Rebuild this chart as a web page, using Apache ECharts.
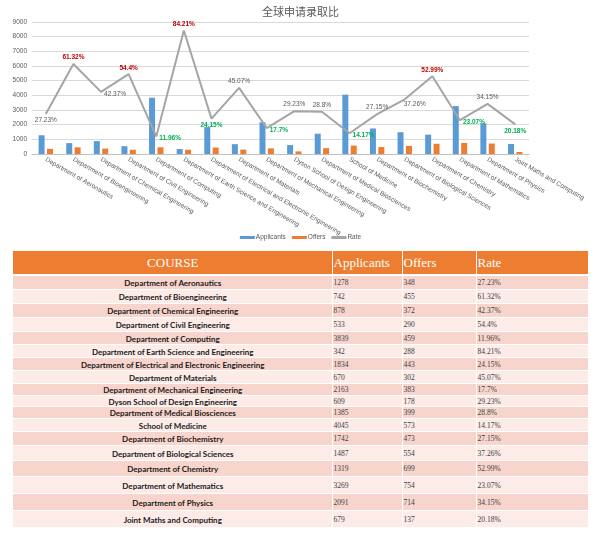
<!DOCTYPE html>
<html>
<head>
<meta charset="utf-8">
<script src="https://cdn.jsdelivr.net/npm/echarts@6/dist/echarts.min.js"></script>
<style>
    html, body { margin: 0; padding: 0; background: #fff; }
    #wrap { position: relative; width: 601px; height: 537px; overflow: hidden; }
    #chart { position: absolute; left: 0; top: 0; width: 601px; height: 250px; }
    #tbl {
        position: absolute; left: 13px; top: 251px; width: 575px;
        border-collapse: collapse; table-layout: fixed;
    }
    #tbl th {
        background: #ED7D31; color: #fff; font-family: "Liberation Serif", serif;
        font-weight: normal; font-size: 13px; height: 23px; padding: 0 0 0 1px;
        text-align: left; border-left: 1px solid #fff; border-bottom: 2px solid #fff;
    }
    #tbl th:first-child { text-align: center; border-left: none; }
    #tbl td {
        padding: 2px 0 0 1px; border-left: 1px solid #fff; border-top: 1px solid #fff;
        font-family: "Liberation Serif", serif; font-size: 7.5px; color: #404040;
        line-height: 8px; vertical-align: middle;
    }
    #tbl td.course {
        text-align: center; border-left: none; font-family: Lato, sans-serif;
        font-weight: bold; font-size: 8px; color: #1a1a1a;
    }
    #tbl tr.dark td { background: #F8D5CC; }
    #tbl tr.light td { background: #FCEBE7; }
</style>
</head>
<body>
<div id="wrap">
    <div id="chart"></div>
    <table id="tbl"></table>
</div>
<script>
    // 课程名称
    var courses = [
        'Department of Aeronautics', 'Department of Bioengineering', 'Department of Chemical Engineering',
        'Department of Civil Engineering', 'Department of Computing', 'Department of Earth Science and Engineering',
        'Department of Electrical and Electronic Engineering', 'Department of Materials',
        'Department of Mechanical Engineering', 'Dyson School of Design Engineering',
        'Department of Medical Biosciences', 'School of Medicine', 'Department of Biochemistry',
        'Department of Biological Sciences', 'Department of Chemistry', 'Department of Mathematics',
        'Department of Physics', 'Joint Maths and Computing'
    ]
    // 申请人数
    var applicants = [1278, 742, 878, 533, 3839, 342, 1834, 670, 2163, 609, 1385, 4045, 1742, 1487, 1319, 3269, 2091, 679]
    // 录取人数
    var offers = [348, 455, 372, 290, 459, 288, 443, 302, 383, 178, 399, 573, 473, 554, 699, 754, 714, 137]
    // 录取率 (%)
    var rates = [27.23, 61.32, 42.37, 54.4, 11.96, 84.21, 24.15, 45.07, 17.7, 29.23, 28.8, 14.17, 27.15, 37.26, 52.99, 23.07, 34.15, 20.18]
    var yTicks = [0, 1000, 2000, 3000, 4000, 5000, 6000, 7000, 8000, 9000]

    // 折线标签的位置 (样式)
    var labelPos = ['bottom', 'top', 'right', 'top', 'right', 'top', 'bottom', 'top', 'right',
        'top', 'top', 'right', 'top', 'bottom', 'top', 'right', 'top', 'bottom']
    // 表格行高 (样式)
    var rowH = [14, 14, 14, 14, 13, 13, 13, 13, 12, 11, 12, 13, 14, 15, 16, 17, 17, 17]

    function rateColor(r) {
        if (r > 50) return '#C00000'
        if (r < 25) return '#00B050'
        return '#595959'
    }

    var rateData = rates.map(function (r, i) {
        var hi = r > 50 || r < 25
        return {
            value: r * 100,
            label: {
                position: labelPos[i],
                offset: i === 13 ? [10, -2] : (labelPos[i] === 'right' ? [0, 2] : [0, 0]),
                color: rateColor(r),
                fontWeight: hi ? 'bold' : 'normal'
            }
        }
    })

    var chart = echarts.init(document.getElementById('chart'))
    chart.setOption({
        animation: false,
        textStyle: { fontFamily: 'Liberation Sans, sans-serif' },
        title: {
            text: '全球申请录取比',
            left: 'center',
            top: 1,
            textStyle: { fontFamily: 'Noto Sans CJK SC', fontSize: 11, fontWeight: 'normal', color: '#595959' }
        },
        legend: {
            bottom: 4,
            left: 'center',
            itemWidth: 15,
            itemHeight: 3,
            itemGap: 6,
            textStyle: { fontSize: 6.5, color: '#595959', padding: [0, 0, 0, -4] },
            data: [
                { name: 'Applicants', icon: 'rect' },
                { name: 'Offers', icon: 'rect' },
                { name: 'Rate', icon: 'rect' }
            ]
        },
        grid: { left: 32, right: 72, top: 22, bottom: 96 },
        xAxis: {
            type: 'category',
            data: courses,
            axisLine: { lineStyle: { color: '#BFBFBF' } },
            axisTick: { show: false },
            axisLabel: {
                rotate: -30,
                interval: 0,
                fontSize: 6.5,
                color: '#595959',
                margin: 5
            }
        },
        yAxis: {
            type: 'value',
            min: yTicks[0],
            max: yTicks[yTicks.length - 1],
            interval: 1000,
            axisLabel: {
                fontSize: 6.5, color: '#595959', margin: 5,
                formatter: function (v) { return String(v) }
            },
            axisLine: { show: false },
            axisTick: { show: false },
            splitLine: { lineStyle: { color: '#D9D9D9', width: 1 } }
        },
        series: [{
            name: 'Applicants',
            type: 'bar',
            data: applicants,
            barWidth: 6,
            barGap: '40%',
            itemStyle: { color: '#5B9BD5' }
        }, {
            name: 'Offers',
            type: 'bar',
            data: offers,
            barWidth: 6,
            itemStyle: { color: '#ED7D31' }
        }, {
            name: 'Rate',
            type: 'line',
            data: rateData,
            symbol: 'circle',
            symbolSize: 0,
            showSymbol: true,
            itemStyle: { color: '#A5A5A5' },
            lineStyle: { color: '#A5A5A5', width: 2 },
            label: {
                show: true,
                fontSize: 6.5,
                distance: 3,
                formatter: function (p) {
                    return rates[p.dataIndex] + '%'
                }
            },
            z: 5
        }]
    })

    // 表格
    var html = '<colgroup><col style="width:319px"><col style="width:70px"><col style="width:74px"><col style="width:112px"></colgroup>'
    html += '<tr><th>COURSE</th><th>Applicants</th><th>Offers</th><th>Rate</th></tr>'
    courses.forEach(function (c, i) {
        html += '<tr class="' + (i % 2 === 0 ? 'dark' : 'light') + '" style="height:' + rowH[i] + 'px">' +
            '<td class="course">' + c + '</td>' +
            '<td>' + applicants[i] + '</td>' +
            '<td>' + offers[i] + '</td>' +
            '<td>' + rates[i] + '%</td></tr>'
    })
    document.getElementById('tbl').innerHTML = html
</script>
</body>
</html>
